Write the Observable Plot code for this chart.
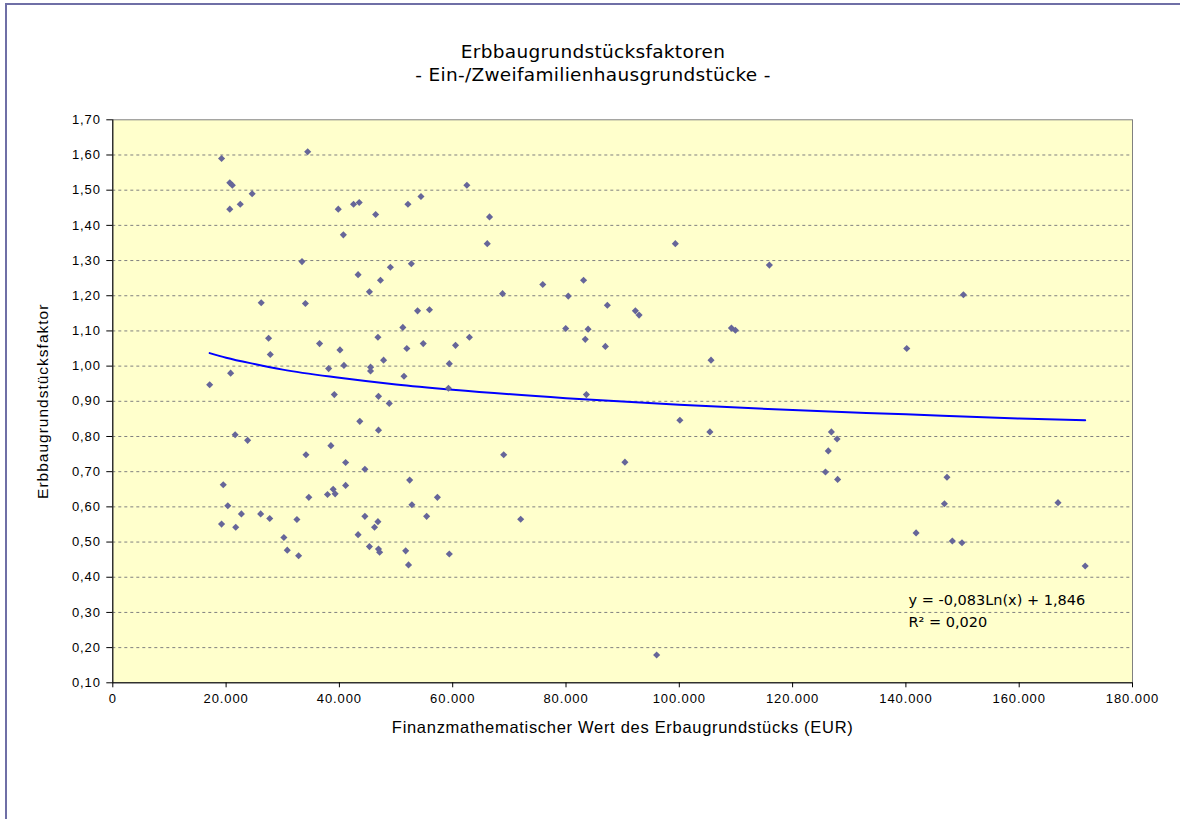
<!DOCTYPE html>
<html>
<head>
<meta charset="utf-8">
<script src="https://cdn.jsdelivr.net/npm/d3@7"></script>
<script src="https://cdn.jsdelivr.net/npm/@observablehq/plot@0.6"></script>
<style>
  html, body { margin: 0; padding: 0; background: #ffffff; width: 1180px; height: 819px; overflow: hidden; }
  #page { position: relative; width: 1180px; height: 819px; }
  #border { position: absolute; left: 5px; top: 3px; width: 1180px; height: 830px;
            border-left: 2px solid #6f6fa6; border-top: 2px solid #6f6fa6; box-sizing: border-box; }
  #titles { position: absolute; left: 0; top: 0; width: 1180px; height: 100px; text-align: center;
            font-family: "DejaVu Sans", Verdana, sans-serif; font-size: 18.5px; letter-spacing: 0.3px; color: #000; }
  #titles .t1 { position: absolute; top: 41px; left: 0; width: 1186px; }
  #titles .t2 { position: absolute; top: 64px; left: 0; width: 1186px; }
  #chart { position: absolute; left: 0; top: 100px; }
  #chart svg g[aria-label="x-axis tick label"] text,
  #chart svg g[aria-label="y-axis tick label"] text { letter-spacing: 0.9px; }
</style>
</head>
<body>
<div id="page">
  <div id="border"></div>
  <div id="titles">
    <div class="t1">Erbbaugrundstücksfaktoren</div>
    <div class="t2">- Ein-/Zweifamilienhausgrundstücke -</div>
  </div>
  <div id="chart"></div>
</div>
<script>
// Finanzmathematischer Wert des Erbbaugrundstücks (EUR)
const werte = [
  19200, 34400, 20650, 21100, 24600, 22500, 20650, 39800, 42500, 43500,
  40700, 33400, 43300, 26200, 34000, 27500, 27800, 36500, 40100, 38100,
  40800, 20800, 17100, 39100,
  21600, 23800, 38500, 34100, 41100, 19500, 38900, 41100, 37900, 39250,
  34600, 20300, 22700, 26100, 27700, 32500, 19200, 21700, 30200, 30800,
  32800, 43300, 43600,
  48800, 46900, 69000, 44500, 52400, 57300, 52800, 44500, 55400, 46800,
  46200, 72000, 45300, 46900, 47100, 51700, 59400, 52200,
  46400, 52100, 54400, 62500, 66500, 66100, 49000, 52700, 47250, 45300,
  68800, 75900, 83100, 80400, 53800, 55900, 51200, 79950, 83900, 83400,
  46800, 51900, 54800, 60500, 62950, 47800, 45500, 45500, 59400, 51400,
  59250, 46900, 83600,
  99300, 115900, 87300, 92250, 92900, 109200, 109900, 86950, 105600,
  100100, 105400, 90400, 96000, 126850, 127850, 126300, 125800, 127950,
  150150, 140150,
  147250, 146800, 166850, 141800, 148200, 149900, 171650
];
// Erbbaugrundstücksfaktor
const faktoren = [
  1.590, 1.609, 1.521, 1.514, 1.490, 1.460, 1.446, 1.446, 1.460, 1.465,
  1.373, 1.297, 1.260, 1.180, 1.178, 1.079, 1.033, 1.064, 1.046, 0.993,
  1.002, 0.980, 0.947, 0.919,
  0.805, 0.789, 0.774, 0.748, 0.726, 0.663, 0.650, 0.661, 0.635, 0.637,
  0.627, 0.603, 0.580, 0.580, 0.567, 0.564, 0.551, 0.542, 0.513, 0.477,
  0.461, 0.521, 0.843,
  0.894, 0.818, 0.748, 0.707, 0.676, 0.627, 0.606, 0.573, 0.573, 0.558,
  0.542, 0.565, 0.487, 0.480, 0.471, 0.475, 0.466, 0.435,
  1.431, 1.460, 1.482, 1.514, 1.424, 1.348, 1.281, 1.291, 1.244, 1.211,
  1.206, 1.232, 1.244, 1.199, 1.157, 1.160, 1.110, 1.107, 1.105, 1.076,
  1.082, 1.050, 1.064, 1.059, 1.082, 1.017, 0.997, 0.986, 1.007, 0.971,
  0.937, 0.914, 0.919,
  1.348, 1.287, 1.173, 1.157, 1.145, 1.108, 1.102, 1.056, 1.017,
  0.846, 0.813, 0.727, 0.179, 0.813, 0.793, 0.759, 0.699, 0.678,
  1.203, 1.050,
  0.684, 0.609, 0.612, 0.526, 0.503, 0.498, 0.432
];
// Logarithmische Trendlinie
const trendX = [17100, 20000, 25000, 30000, 40000, 50000, 60000, 80000, 100000, 120000, 140000, 160000, 171650];
const trendY = [1.037, 1.024, 1.006, 0.990, 0.967, 0.948, 0.933, 0.909, 0.890, 0.875, 0.863, 0.851, 0.846];
const gleichung = "y = -0,083Ln(x) + 1,846";
const bestimmtheit = "R² = 0,020";

const xTicks = [0, 20000, 40000, 60000, 80000, 100000, 120000, 140000, 160000, 180000];
const yTicks = [0.1, 0.2, 0.3, 0.4, 0.5, 0.6, 0.7, 0.8, 0.9, 1.0, 1.1, 1.2, 1.3, 1.4, 1.5, 1.6, 1.7];
const gridTicks = yTicks.slice(1, -1);
const xTitle = "Finanzmathematischer Wert des Erbaugrundstücks (EUR)";
const yTitle = "Erbbaugrundstücksfaktor";

const points = werte.map((w, i) => ({x: w, y: faktoren[i]}));
const trend = trendX.map((w, i) => ({x: w, y: trendY[i]}));

const fmtX = d => d === 0 ? "0" : d3.format(",")(d).replace(/,/g, ".");
const fmtY = d => d.toFixed(2).replace(".", ",");

const chart = Plot.plot({
  width: 1180,
  height: 719,
  marginLeft: 112.3,
  marginRight: 48,
  marginTop: 19.3,
  marginBottom: 136.7,
  style: {fontFamily: "'Liberation Sans', Arial, sans-serif", fontSize: "13px", background: "transparent", color: "#000", overflow: "visible"},
  x: {domain: [0, 180000]},
  y: {domain: [0.1, 1.7]},
  marks: [
    Plot.frame({fill: "#FFFFCC", stroke: "#808080"}),
    Plot.gridY(gridTicks, {stroke: "#808080", strokeOpacity: 1, strokeDasharray: "3,3", strokeWidth: 1}),
    Plot.axisX(xTicks, {tickFormat: fmtX, tickSize: 5, tickPadding: 6, label: null, stroke: "#000", fontSize: 13}),
    Plot.axisY(yTicks, {tickFormat: fmtY, tickSize: 6, tickPadding: 6, label: null, stroke: "#000", fontSize: 13}),
    Plot.ruleX([0], {stroke: "#000"}),
    Plot.ruleY([0.1], {stroke: "#000"}),
    Plot.line(trend, {x: "x", y: "y", stroke: "#0000FF", strokeWidth: 2, curve: "monotone-x"}),
    Plot.dot(points, {x: "x", y: "y", symbol: "diamond2", fill: "#666699", stroke: "none", r: 3.2}),
    Plot.text([gleichung + "\n" + bestimmtheit], {frameAnchor: "top-left", dx: 795.7, dy: 470, textAnchor: "start", lineAnchor: "top", lineHeight: 1.5, fontFamily: "'DejaVu Sans', Verdana, sans-serif", fontSize: 14.5, fill: "#000"}),
    Plot.text([xTitle], {frameAnchor: "bottom", dy: 50, textAnchor: "middle", fontSize: 16.5, fill: "#000"}),
    Plot.text([yTitle], {frameAnchor: "left", dx: -70, rotate: -90, textAnchor: "middle", lineAnchor: "middle", fontSize: 15.5, fill: "#000"})
  ]
});
chart.querySelectorAll("text").forEach(t => {
  const txt = t.textContent;
  if (txt === xTitle) t.style.letterSpacing = "0.7px";
  if (txt === yTitle) t.style.letterSpacing = "1px";
});
document.getElementById("chart").appendChild(chart);
</script>
</body>
</html>
